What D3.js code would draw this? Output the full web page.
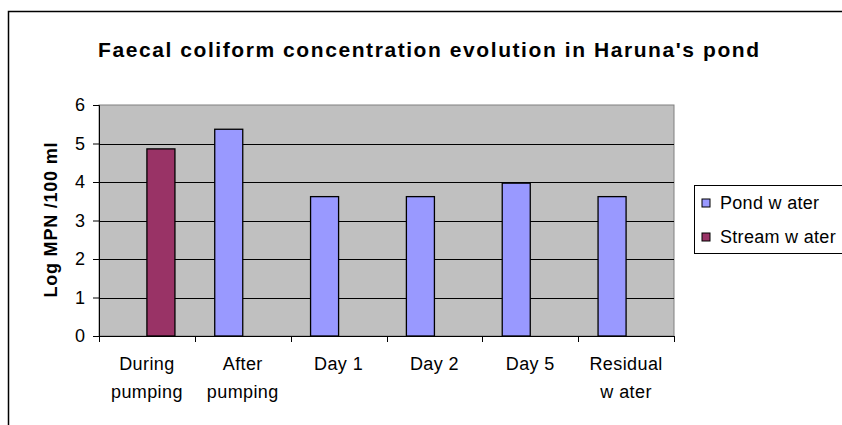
<!DOCTYPE html>
<html>
<head>
<meta charset="utf-8">
<script src="https://cdn.jsdelivr.net/npm/d3@7"></script>
<style>
  body { margin: 0; background: #fff; }
  text { font-family: Arial, "Liberation Sans", sans-serif; }
</style>
</head>
<body>
<svg id="chart" width="842" height="425"></svg>
<script>
  // Data
  var categories = [['During', 'pumping'], ['After', 'pumping'], ['Day 1'], ['Day 2'], ['Day 5'], ['Residual', 'w ater']]
  var seriesNames = ['Pond w ater', 'Stream w ater']
  var pondValues = [null, 5.37, 3.62, 3.62, 3.97, 3.62]
  var streamValues = [4.86, null, null, null, null, null]
  var yTicks = [0, 1, 2, 3, 4, 5, 6]
  var colors = ['#9999FF', '#993366']

  var FONT = 'Arial, "Liberation Sans", sans-serif'
  var svg = d3.select('#chart')
  var plot = { left: 99, right: 674, top: 105, bottom: 336 }

  // outer frame
  svg.append('rect')
    .attr('x', 8.5).attr('y', 11.5)
    .attr('width', 850).attr('height', 430)
    .attr('fill', 'none').attr('stroke', '#000').attr('stroke-width', 1.5)

  svg.append('text')
    .attr('x', 98).attr('y', 57)
    .attr('font-size', 21).attr('font-weight', 'bold')
    .attr('textLength', 661).attr('lengthAdjust', 'spacing')
    .text("Faecal coliform concentration evolution in Haruna's pond")

  var keys = categories.map(function (c, i) { return i })
  var x = d3.scaleBand().domain(keys).range([plot.left, plot.right])
  var xInner = d3.scaleBand().domain(seriesNames).range([0, x.bandwidth()])
    .paddingInner(0).paddingOuter(0.71)
  var y = d3.scaleLinear().domain([0, 6]).range([plot.bottom, plot.top])

  // plot area
  svg.append('rect')
    .attr('x', plot.left).attr('y', plot.top)
    .attr('width', plot.right - plot.left).attr('height', plot.bottom - plot.top)
    .attr('fill', '#C0C0C0').attr('stroke', '#808080').attr('stroke-width', 1)

  // gridlines
  svg.append('g').selectAll('line')
    .data(yTicks.filter(function (t) { return t > 0 && t < 6 }))
    .enter().append('line')
    .attr('x1', plot.left).attr('x2', plot.right)
    .attr('y1', function (d) { return Math.round(y(d)) + 0.5 })
    .attr('y2', function (d) { return Math.round(y(d)) + 0.5 })
    .attr('stroke', '#000').attr('stroke-width', 1)

  // bars
  var rows = []
  keys.forEach(function (k) {
    [pondValues, streamValues].forEach(function (vals, s) {
      if (vals[k] != null) rows.push({ cat: k, series: seriesNames[s], value: vals[k], color: colors[s] })
    })
  })
  svg.append('g').selectAll('rect')
    .data(rows)
    .enter().append('rect')
    .attr('x', function (d) { return x(d.cat) + xInner(d.series) })
    .attr('y', function (d) { return y(d.value) })
    .attr('width', xInner.bandwidth())
    .attr('height', function (d) { return y(0) - y(d.value) })
    .attr('fill', function (d) { return d.color })
    .attr('stroke', '#000').attr('stroke-width', 1.3)

  // y axis
  var yAxis = d3.axisLeft(y).tickValues(yTicks).tickFormat(d3.format('d')).tickSize(6).tickPadding(8)
  var gy = svg.append('g')
    .attr('transform', 'translate(' + plot.left + ',0)')
    .call(yAxis)
  gy.select('.domain').attr('stroke', '#000')
  gy.selectAll('.tick line').attr('stroke', '#000')
  gy.selectAll('text').attr('font-size', 18).attr('font-family', FONT).attr('fill', '#000')

  // x axis
  var gx = svg.append('g')
    .attr('transform', 'translate(0,' + plot.bottom + ')')
  gx.append('line')
    .attr('x1', plot.left).attr('x2', plot.right)
    .attr('y1', 0.5).attr('y2', 0.5).attr('stroke', '#000')
  gx.selectAll('line.tk')
    .data(keys.concat([keys.length]))
    .enter().append('line')
    .attr('class', 'tk')
    .attr('x1', function (d) { return Math.round(plot.left + d * x.step()) + 0.5 })
    .attr('x2', function (d) { return Math.round(plot.left + d * x.step()) + 0.5 })
    .attr('y1', 0).attr('y2', 6).attr('stroke', '#000')
  gx.selectAll('text.lbl')
    .data(keys)
    .enter().append('text')
    .attr('class', 'lbl')
    .attr('text-anchor', 'middle')
    .attr('font-size', 18)
    .attr('letter-spacing', 0.4)
    .attr('x', function (d) { return x(d) + x.bandwidth() / 2 })
    .attr('y', 34)
    .each(function (d) {
      var t = d3.select(this)
      categories[d].forEach(function (line, i) {
        t.append('tspan')
          .attr('x', x(d) + x.bandwidth() / 2)
          .attr('dy', i === 0 ? 0 : 28)
          .text(line)
      })
    })

  // y label
  svg.append('text')
    .attr('transform', 'translate(57,220) rotate(-90)')
    .attr('text-anchor', 'middle')
    .attr('font-size', 18).attr('font-weight', 'bold')
    .attr('textLength', 155).attr('lengthAdjust', 'spacing')
    .text('Log MPN /100 ml')

  // legend
  var legend = svg.append('g')
  legend.append('rect')
    .attr('x', 694.5).attr('y', 185.5)
    .attr('width', 160).attr('height', 68)
    .attr('fill', '#fff').attr('stroke', '#000')
  var items = legend.selectAll('g.item')
    .data(seriesNames)
    .enter().append('g')
    .attr('class', 'item')
    .attr('transform', function (d, i) { return 'translate(702,' + (203 + i * 34) + ')' })
  items.append('rect')
    .attr('x', 0).attr('y', -4).attr('width', 8).attr('height', 8)
    .attr('fill', function (d, i) { return colors[i] })
    .attr('stroke', '#000')
  items.append('text')
    .attr('x', 18).attr('y', 6)
    .attr('font-size', 18)
    .attr('letter-spacing', 0.3)
    .text(function (d) { return d })
</script>
</body>
</html>
